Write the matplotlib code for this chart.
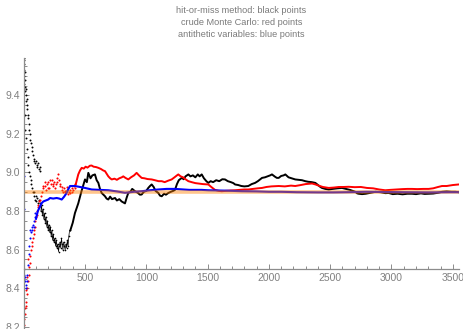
import matplotlib
matplotlib.use('Agg')
import matplotlib.pyplot as plt
from matplotlib.ticker import MultipleLocator

plt.rcParams['font.family'] = ['Liberation Sans', 'DejaVu Sans']

title_lines = ['hit-or-miss method: black points',
               'crude Monte Carlo: red points',
               'antithetic variables: blue points']
true_value = 8.898
n_max = 3550

# hit-or-miss: scattered early estimates (dots)
black_dots_n = [1, 2, 3, 4, 5, 6, 8, 9, 11, 13, 15, 18, 21, 24, 27, 30, 34, 38, 42, 46,
                50, 55, 60, 65, 70, 76, 82, 88, 94, 100, 106, 112, 118, 124, 130, 136,
                10, 14, 20, 26, 32, 38, 44, 50, 56, 62, 68, 74, 80, 86, 92, 98, 104, 110,
                116, 122, 128, 134]
black_dots_y = [9.59, 9.56, 9.53, 9.58, 9.50, 9.46, 9.42, 9.52, 9.48, 9.44, 9.40, 9.37,
                9.43, 9.38, 9.35, 9.33, 9.30, 9.28, 9.25, 9.22, 9.20, 9.17, 9.15, 9.13,
                9.11, 9.09, 9.07, 9.06, 9.05, 9.06, 9.04, 9.03, 9.05, 9.02, 9.03, 9.01,
                9.30, 9.22, 9.18, 9.12, 9.08, 9.04, 9.00, 8.98, 8.96, 8.94, 8.92, 8.90,
                8.88, 8.90, 8.86, 8.88, 8.85, 8.87, 8.84, 8.86, 8.82, 8.84]
# hit-or-miss: zigzag band before it settles
black_zig_n = [140, 146, 152, 158, 164, 170, 176, 182, 188, 194, 200, 206, 212, 218, 224,
               230, 236, 242, 248, 254, 260, 266, 272, 278, 284, 290, 296, 302, 308, 314,
               320, 326, 332, 338, 344, 350, 356, 362, 368, 374]
black_zig_y = [8.80, 8.83, 8.78, 8.81, 8.76, 8.79, 8.74, 8.77, 8.72, 8.75, 8.70, 8.73,
               8.69, 8.72, 8.67, 8.70, 8.65, 8.68, 8.64, 8.66, 8.62, 8.65, 8.61, 8.63,
               8.59, 8.62, 8.64, 8.61, 8.66, 8.63, 8.60, 8.64, 8.62, 8.60, 8.63, 8.61,
               8.65, 8.62, 8.67, 8.70]
# hit-or-miss: running estimate afterwards
black_n = [380, 400, 418, 445, 470, 500, 515, 527, 545, 560, 581, 595, 609, 622, 636, 650,
           663, 676, 690, 705, 720, 745, 760, 780, 799, 812, 826, 840, 853, 870, 885, 908,
           930, 948, 962, 980, 1000, 1016, 1030, 1044, 1060, 1075, 1098, 1112, 1126, 1145,
           1160, 1180, 1200, 1220, 1234, 1250, 1265, 1289, 1305, 1320, 1343, 1360, 1380,
           1400, 1420, 1435, 1452, 1470, 1490, 1506, 1525, 1545, 1570, 1595, 1620, 1642,
           1665, 1690, 1710, 1724, 1750, 1775, 1800, 1832, 1860, 1887, 1910, 1930, 1944,
           1968, 1990, 2010, 2025, 2050, 2065, 2080, 2100, 2120, 2134, 2160, 2185, 2215,
           2240, 2270, 2297, 2320, 2350, 2379, 2400, 2420, 2433, 2460, 2488, 2520, 2560,
           2596, 2630, 2660, 2690, 2705, 2720, 2732, 2760, 2790, 2830, 2870, 2910, 2950,
           2977, 3010, 3050, 3090, 3130, 3167, 3200, 3240, 3270, 3303, 3340, 3380, 3412,
           3450, 3490, 3521, 3548]
black_y = [8.70, 8.74, 8.79, 8.84, 8.90, 8.964, 8.95, 8.998, 8.97, 8.985, 8.99, 8.96,
           8.946, 8.915, 8.894, 8.885, 8.877, 8.865, 8.86, 8.875, 8.862, 8.868, 8.855,
           8.862, 8.85, 8.845, 8.84, 8.87, 8.894, 8.90, 8.915, 8.903, 8.895, 8.885, 8.886,
           8.90, 8.905, 8.92, 8.93, 8.938, 8.925, 8.905, 8.894, 8.88, 8.877, 8.89, 8.885,
           8.894, 8.90, 8.905, 8.91, 8.94, 8.96, 8.972, 8.965, 8.98, 8.99, 8.98, 8.985,
           8.975, 8.99, 8.98, 8.99, 8.97, 8.955, 8.946, 8.955, 8.95, 8.96, 8.955, 8.965,
           8.964, 8.955, 8.95, 8.945, 8.938, 8.935, 8.93, 8.928, 8.93, 8.94, 8.946, 8.955,
           8.965, 8.972, 8.975, 8.98, 8.985, 8.99, 8.978, 8.972, 8.972, 8.982, 8.985, 8.99,
           8.975, 8.97, 8.964, 8.962, 8.96, 8.955, 8.952, 8.95, 8.946, 8.935, 8.925, 8.92,
           8.915, 8.912, 8.915, 8.918, 8.92, 8.915, 8.91, 8.903, 8.90, 8.892, 8.89, 8.888,
           8.89, 8.895, 8.90, 8.898, 8.893, 8.894, 8.888, 8.89, 8.887, 8.89, 8.89, 8.888,
           8.892, 8.889, 8.89, 8.891, 8.895, 8.90, 8.902, 8.90, 8.90, 8.898]

# crude Monte Carlo
red_dots_n = [3, 6, 10, 15, 20, 25, 30, 35, 40, 45, 50, 55, 60, 65, 70, 75, 80, 85, 90, 95,
              100, 105, 110, 115, 120, 125, 130, 140, 150, 160, 170, 180, 190, 200, 210,
              220, 230, 240, 250, 260, 270, 280, 290, 300, 310, 320, 330, 340, 350, 360,
              370, 380, 390, 400, 410, 420, 8, 18, 28, 38, 155, 175, 195, 215, 235, 255,
              275, 295, 315, 335, 355, 375, 395, 415]
red_dots_y = [8.21, 8.24, 8.27, 8.31, 8.33, 8.37, 8.40, 8.44, 8.47, 8.51, 8.53, 8.57, 8.60,
              8.62, 8.64, 8.66, 8.68, 8.70, 8.72, 8.75, 8.77, 8.78, 8.80, 8.82, 8.83, 8.85,
              8.86, 8.88, 8.90, 8.92, 8.93, 8.91, 8.94, 8.95, 8.92, 8.94, 8.96, 8.93, 8.95,
              8.94, 8.97, 8.99, 8.96, 8.93, 8.91, 8.90, 8.92, 8.90, 8.91, 8.89, 8.90, 8.91,
              8.92, 8.91, 8.93, 8.94, 8.30, 8.39, 8.46, 8.55, 8.93, 8.95, 8.92, 8.96, 8.94,
              8.92, 8.95, 8.94, 8.925, 8.905, 8.925, 8.895, 8.90, 8.92]
red_n = [425, 445, 459, 473, 490, 505, 520, 540, 554, 570, 590, 609, 630, 650, 663, 680,
         690, 705, 718, 740, 760, 780, 800, 812, 830, 853, 875, 900, 921, 940, 962, 985,
         1010, 1044, 1070, 1100, 1126, 1150, 1180, 1207, 1230, 1250, 1261, 1280, 1300, 1320,
         1343, 1370, 1400, 1424, 1460, 1506, 1530, 1560, 1590, 1615, 1650, 1690, 1724, 1760,
         1800, 1832, 1870, 1910, 1944, 1980, 2020, 2080, 2130, 2180, 2215, 2260, 2300, 2352,
         2380, 2406, 2440, 2488, 2530, 2570, 2610, 2651, 2700, 2750, 2800, 2850, 2900, 2949,
         2990, 3040, 3090, 3130, 3167, 3210, 3260, 3303, 3340, 3380, 3412, 3450, 3500, 3548]
red_y = [8.94, 8.99, 9.01, 9.024, 9.02, 9.03, 9.025, 9.035, 9.036, 9.03, 9.028, 9.024,
         9.018, 9.01, 9.007, 8.99, 8.98, 8.97, 8.964, 8.968, 8.962, 8.97, 8.975, 8.98,
         8.972, 8.964, 8.975, 8.985, 8.998, 8.985, 8.972, 8.97, 8.966, 8.964, 8.96, 8.955,
         8.955, 8.95, 8.958, 8.964, 8.975, 8.985, 8.99, 8.98, 8.975, 8.965, 8.955, 8.95,
         8.945, 8.943, 8.94, 8.938, 8.925, 8.91, 8.905, 8.903, 8.905, 8.907, 8.908, 8.91,
         8.912, 8.912, 8.915, 8.918, 8.92, 8.925, 8.928, 8.93, 8.928, 8.932, 8.93, 8.935,
         8.94, 8.943, 8.938, 8.932, 8.925, 8.92, 8.922, 8.925, 8.925, 8.926, 8.924, 8.925,
         8.92, 8.918, 8.912, 8.908, 8.91, 8.912, 8.914, 8.915, 8.915, 8.914, 8.915, 8.915,
         8.918, 8.925, 8.93, 8.93, 8.935, 8.938]

# antithetic variables
blue_dots_n = [1, 2, 3, 5, 8, 12, 16, 20, 25, 30, 35, 40, 45, 50, 55, 60, 65, 70, 75, 80,
               85, 90, 95]
blue_dots_y = [8.98, 8.81, 8.50, 8.47, 8.44, 8.46, 8.42, 8.40, 8.44, 8.47, 8.52, 8.58,
               8.62, 8.66, 8.70, 8.69, 8.72, 8.70, 8.73, 8.72, 8.75, 8.77, 8.79]
blue_n = [100, 115, 130, 145, 160, 180, 200, 215, 240, 269, 290, 310, 330, 350, 365, 378,
          400, 418, 459, 500, 554, 620, 690, 760, 826, 900, 962, 1030, 1098, 1166, 1234,
          1350, 1450, 1506, 1650, 1778, 1900, 2000, 2100, 2227, 2400, 2526, 2650, 2797,
          2950, 3100, 3300, 3480, 3548]
blue_y = [8.76, 8.80, 8.82, 8.84, 8.85, 8.855, 8.86, 8.868, 8.865, 8.868, 8.865, 8.86,
          8.875, 8.894, 8.915, 8.93, 8.93, 8.93, 8.925, 8.92, 8.912, 8.91, 8.908, 8.902,
          8.895, 8.90, 8.903, 8.908, 8.912, 8.915, 8.915, 8.91, 8.91, 8.908, 8.906, 8.903,
          8.902, 8.90, 8.90, 8.898, 8.897, 8.897, 8.898, 8.90, 8.899, 8.898, 8.897, 8.898,
          8.898]

fig = plt.figure(figsize=(4.63, 3.29), dpi=100)
ax = fig.add_axes([0.0512, 0.0, 0.94, 0.8252])

ax.plot(black_dots_n, black_dots_y, ls='none', marker='o', ms=1.4, color='black', mew=0)
ax.plot(black_zig_n, black_zig_y, lw=0.5, color='black', marker='o', ms=1.2, mew=0)
ax.plot(black_n, black_y, lw=1.4, color='black')
ax.plot(red_dots_n, red_dots_y, ls='none', marker='o', ms=1.5, color='red', mew=0)
ax.plot(red_n, red_y, lw=1.4, color='red')
ax.plot(blue_dots_n, blue_dots_y, ls='none', marker='o', ms=1.5, color='blue', mew=0)
ax.plot(blue_n, blue_y, lw=1.5, color='blue')
ax.plot([0, n_max], [true_value, true_value], lw=2.6, color='#ff8000', alpha=0.45)

ax.set_xlim(0, n_max)
ax.set_ylim(8.19, 9.595)
ax.spines['top'].set_visible(False)
ax.spines['right'].set_visible(False)
ax.spines['bottom'].set_position(('data', 8.5))
for s in ['left', 'bottom']:
    ax.spines[s].set_color('#8c8c8c')
    ax.spines[s].set_linewidth(0.9)

ax.xaxis.set_minor_locator(MultipleLocator(100))
ax.yaxis.set_minor_locator(MultipleLocator(0.05))
ax.set_xticks([500, 1000, 1500, 2000, 2500, 3000, 3500])
ax.set_xticklabels(['500', '1000', '1500', '2000', '2500', '3000', '3500'])
ax.set_yticks([8.2, 8.4, 8.6, 8.8, 9.0, 9.2, 9.4])
ax.set_yticklabels(['8.2', '8.4', '8.6', '8.8', '9.0', '9.2', '9.4'])
ax.tick_params(which='both', direction='in', color='#8c8c8c', labelcolor='#808080',
               labelsize=7.5, width=0.7)
ax.tick_params(which='major', length=3.5, pad=2.5)
ax.tick_params(which='minor', length=2)
ax.patch.set_visible(False)

cx = 0.0512 + 0.94 / 2
for i, t in enumerate(title_lines):
    fig.text(cx, 1 - (10.5 + 11.8 * i) / 329, t, ha='center', va='center',
             fontsize=6.6, color='#7a7a7a')

fig.savefig('out.png', dpi=100)
